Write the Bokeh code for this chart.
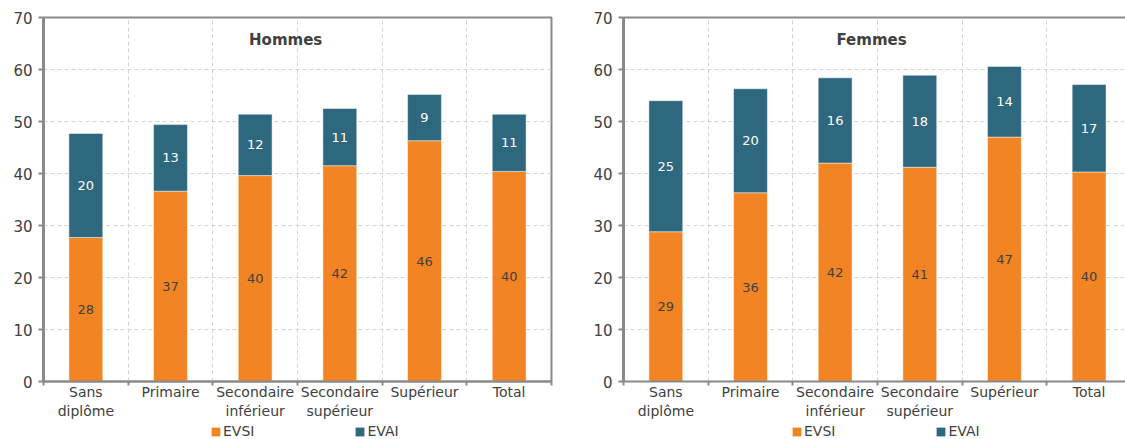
from bokeh.plotting import figure
from bokeh.models import Range1d, FixedTicker, LinearAxis, Legend, LegendItem, ColumnDataSource
from bokeh.layouts import row, column
from bokeh.core.properties import value
from bokeh.embed import file_html
from bokeh.resources import INLINE

# Categories (diploma level); axis labels are split over two lines
categories = ["Sans diplôme", "Primaire", "Secondaire inférieur",
              "Secondaire supérieur", "Supérieur", "Total"]
label_line1 = ["Sans", "Primaire", "Secondaire", "Secondaire", "Supérieur", "Total"]
label_line2 = ["diplôme", " ", "inférieur", "supérieur", " ", " "]

# Life expectancy at 35 (years): without disability (EVSI) and with disability (EVAI)
hommes_evsi = [27.7, 36.6, 39.6, 41.5, 46.3, 40.4]
hommes_evai = [20.0, 12.8, 11.8, 11.0, 8.9, 11.0]
femmes_evsi = [28.8, 36.3, 42.0, 41.2, 47.0, 40.3]
femmes_evai = [25.2, 20.0, 16.4, 17.7, 13.6, 16.8]

series_names = ["EVSI", "EVAI"]
y_ticks = [0, 10, 20, 30, 40, 50, 60, 70]

ORANGE = "#F28423"
TEAL = "#2E687E"
AXIS_GRAY = "#898989"
GRID_GRAY = "#d3d3d3"
TEXT = "#404040"
FONT = "DejaVu Sans"
COLORS = [ORANGE, TEAL]


def make_panel(title, evsi, evai, width, border_left, border_right, x_end,
               title_x, closed_right):
    n = len(categories)
    xs = [i + 0.5 for i in range(n)]
    src = ColumnDataSource(dict(
        x=xs,
        evsi=evsi,
        evai=evai,
        top=[a + b for a, b in zip(evsi, evai)],
        evsi_mid=[a / 2 for a in evsi],
        evai_mid=[a + b / 2 for a, b in zip(evsi, evai)],
        evsi_lbl=[str(round(a)) for a in evsi],
        evai_lbl=[str(round(b)) for b in evai],
    ))

    p = figure(width=width, height=421,
               x_range=Range1d(0, x_end), y_range=Range1d(0, 70),
               output_backend="svg", toolbar_location=None,
               min_border_left=border_left, min_border_right=border_right,
               min_border_top=17, min_border_bottom=30,
               background_fill_color="white", border_fill_color="white")

    # y axis
    yax = p.yaxis[0]
    yax.ticker = FixedTicker(ticks=y_ticks)
    yax.axis_line_color = AXIS_GRAY
    yax.axis_line_width = 3
    yax.major_tick_line_color = AXIS_GRAY
    yax.major_tick_line_width = 2
    yax.major_tick_out = 5
    yax.major_tick_in = 0
    yax.minor_tick_line_color = None
    yax.major_label_text_font = FONT
    yax.major_label_text_font_size = "15px"
    yax.major_label_text_color = TEXT
    yax.major_label_standoff = 6

    # x axis: first label line at category centres, ticks at category boundaries
    xax = p.xaxis[0]
    xax.ticker = FixedTicker(ticks=xs, minor_ticks=list(range(n + 1)))
    xax.major_label_overrides = {x: lbl for x, lbl in zip(xs, label_line1)}
    xax.axis_line_color = AXIS_GRAY
    xax.axis_line_width = 2
    xax.major_tick_line_color = None
    xax.major_tick_out = 0
    xax.major_tick_in = 0
    xax.minor_tick_line_color = AXIS_GRAY
    xax.minor_tick_line_width = 2
    xax.minor_tick_out = 4
    xax.minor_tick_in = 0
    xax.major_label_text_font = FONT
    xax.major_label_text_font_size = "14px"
    xax.major_label_text_color = TEXT
    xax.major_label_standoff = -2

    # second label line
    xax2 = LinearAxis(ticker=FixedTicker(ticks=xs),
                      major_label_overrides={x: lbl for x, lbl in zip(xs, label_line2)},
                      axis_line_color=None, major_tick_line_color=None,
                      minor_tick_line_color=None,
                      major_tick_out=0, major_tick_in=0,
                      minor_tick_out=0, minor_tick_in=0,
                      major_label_standoff=0,
                      major_label_text_font=FONT,
                      major_label_text_font_size="14px",
                      major_label_text_color=TEXT)
    p.add_layout(xax2, "below")

    # dashed grid
    p.ygrid.ticker = FixedTicker(ticks=y_ticks[1:-1])
    p.xgrid.ticker = FixedTicker(ticks=list(range(1, n)))
    for g in (p.xgrid[0], p.ygrid[0]):
        g.grid_line_color = GRID_GRAY
        g.grid_line_width = 1
        g.grid_line_dash = "4 3"

    # frame border on top (and right for the closed panel)
    if closed_right:
        p.outline_line_color = AXIS_GRAY
        p.outline_line_width = 2
    else:
        p.outline_line_color = None
        top_axis = LinearAxis(ticker=FixedTicker(ticks=[]),
                              major_tick_out=0, major_tick_in=0,
                              minor_tick_out=0, minor_tick_in=0,
                              major_label_text_font_size="0px",
                              axis_line_color=AXIS_GRAY, axis_line_width=2)
        p.add_layout(top_axis, "above")

    # stacked bars
    p.vbar(x="x", bottom=0, top="evsi", width=0.4, source=src,
           fill_color=ORANGE, line_color="white", line_width=0.8, line_alpha=0.6)
    p.vbar(x="x", bottom="evsi", top="top", width=0.4, source=src,
           fill_color=TEAL, line_color="white", line_width=0.8, line_alpha=0.6)

    # value labels
    p.text(x="x", y="evsi_mid", text="evsi_lbl", source=src,
           text_font=value(FONT), text_font_size="13px", text_color=TEXT,
           text_align="center", text_baseline="middle")
    p.text(x="x", y="evai_mid", text="evai_lbl", source=src,
           text_font=value(FONT), text_font_size="13px", text_color="white",
           text_align="center", text_baseline="middle")

    # panel title
    p.text(x=[title_x], y=[65.6], text=[title],
           text_font=value(FONT), text_font_style="bold", text_font_size="15px",
           text_color=TEXT, text_align="center", text_baseline="middle")
    return p


def make_legend(width, x_offset):
    # thin strip holding the series legend under each panel;
    # the proxy bars sit outside the visible range and only feed the swatches
    lg = figure(width=width, height=18, x_range=Range1d(0, 1), y_range=Range1d(0, 1),
                x_axis_type=None, y_axis_type=None,
                output_backend="svg", toolbar_location=None,
                min_border_left=0, min_border_right=0,
                min_border_top=0, min_border_bottom=0,
                outline_line_color=None)
    lg.xgrid.visible = False
    lg.ygrid.visible = False
    items = []
    for name, color in zip(series_names, COLORS):
        r = lg.vbar(x=[5], top=[1], width=0.1, fill_color=color, line_color=None)
        items.append(LegendItem(label=name, renderers=[r]))
    legend = Legend(items=items, orientation="horizontal", location=(x_offset - 1, 0),
                    glyph_width=11, glyph_height=11, label_standoff=2,
                    spacing=100, padding=0, margin=0,
                    label_text_font=FONT, label_text_font_size="14px",
                    label_text_color=TEXT, border_line_color=None,
                    background_fill_alpha=0)
    lg.add_layout(legend)
    return lg


left = make_panel("Hommes", hommes_evsi, hommes_evai, width=565,
                  border_left=43, border_right=14, x_end=6,
                  title_x=2.86, closed_right=True)
right = make_panel("Femmes", femmes_evsi, femmes_evai, width=560,
                   border_left=58, border_right=0, x_end=5.93,
                   title_x=2.93, closed_right=False)

layout = column(row(left, right), row(make_legend(565, 211), make_legend(560, 227)))
open("out.html", "w").write(file_html(layout, INLINE))
